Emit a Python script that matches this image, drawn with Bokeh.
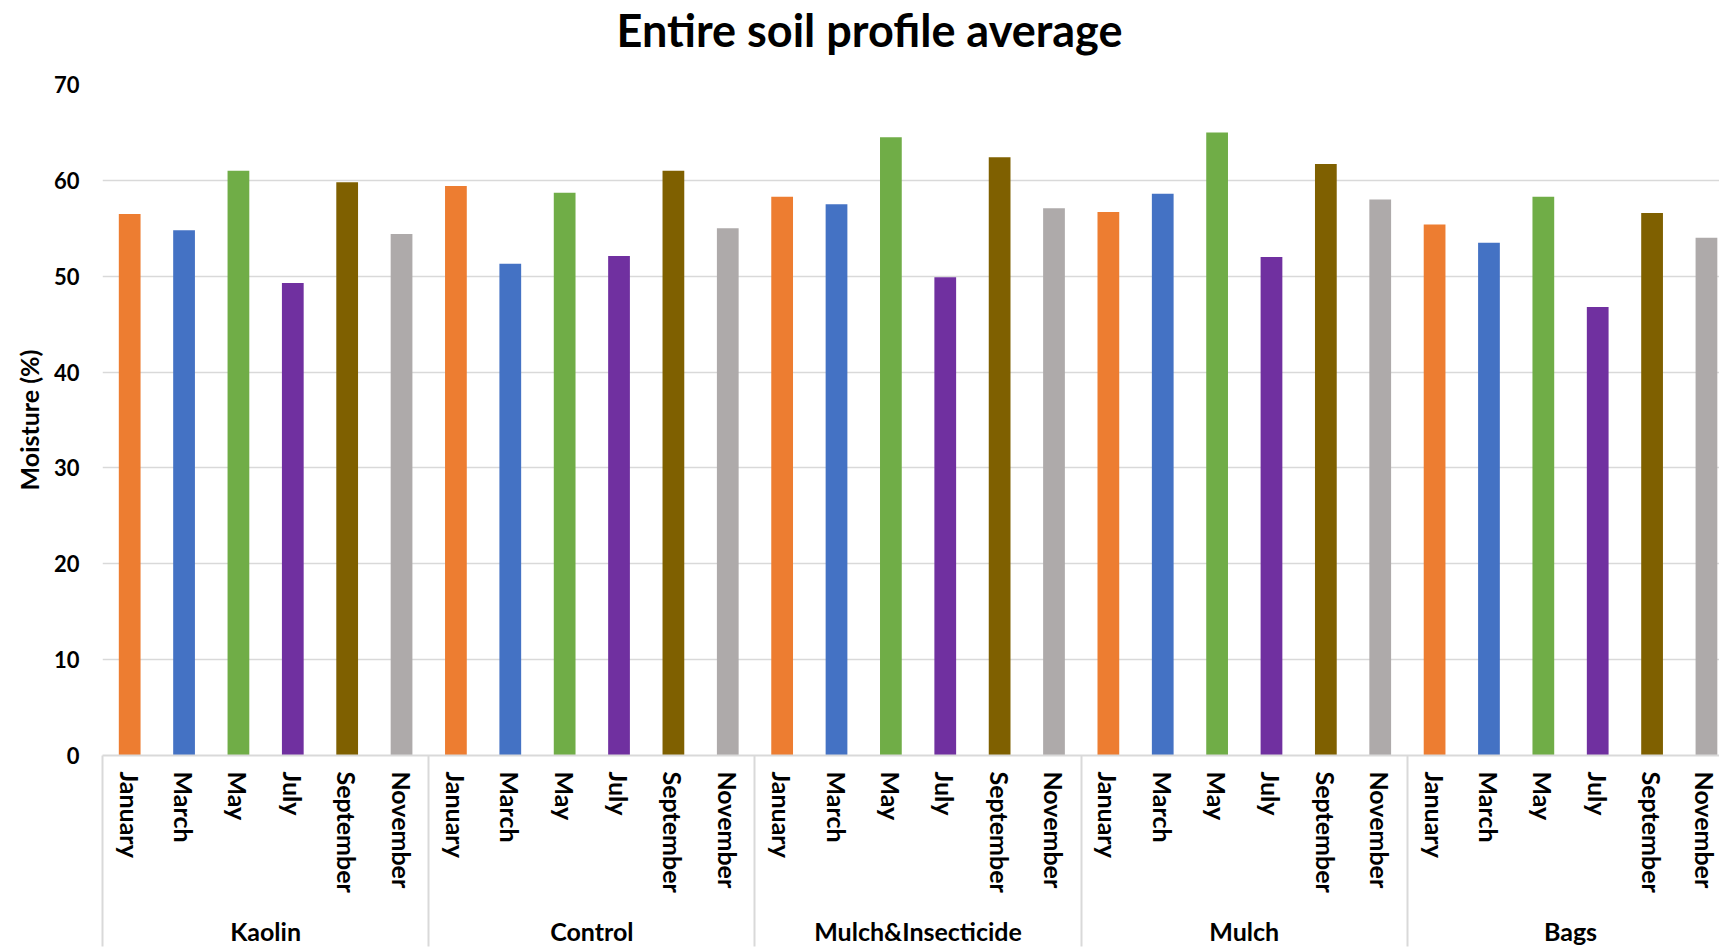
from bokeh.plotting import figure
from bokeh.models import Range1d, FixedTicker, LinearAxis, ColumnDataSource, Label
from bokeh.embed import file_html
from bokeh.resources import INLINE

# Treatments (outer category) and sampling months (inner category)
groups = ["Kaolin", "Control", "Mulch&Insecticide", "Mulch", "Bags"]
months = ["January", "March", "May", "July", "September", "November"]

# Soil moisture (%) averaged over the entire profile
kaolin = [56.5, 54.8, 61.0, 49.3, 59.8, 54.4]
control = [59.4, 51.3, 58.7, 52.1, 61.0, 55.0]
mulch_insecticide = [58.3, 57.5, 64.5, 49.9, 62.4, 57.1]
mulch = [56.7, 58.6, 65.0, 52.0, 61.7, 58.0]
bags = [55.4, 53.5, 58.3, 46.8, 56.6, 54.0]

month_colors = ["#ED7D31", "#4472C4", "#70AD47", "#7030A0", "#7F6000", "#AEAAAA"]
y_ticks = [0, 10, 20, 30, 40, 50, 60, 70]
chart_title = "Entire soil profile average"

series = [kaolin, control, mulch_insecticide, mulch, bags]
values = [v for s in series for v in s]
n_months = len(months)
positions = list(range(len(values)))
colors = [month_colors[i % n_months] for i in positions]

source = ColumnDataSource(dict(x=positions, top=values, color=colors))

FONT = "Lato"
GRID = "#D9D9D9"

WIDTH, HEIGHT = 1719, 948
LEFT, TOP, BOTTOM = 102, 84, 189
x_start, x_end = -0.5, 29.24

p = figure(
    width=WIDTH, height=HEIGHT, title=None,
    output_backend="svg", toolbar_location=None,
    x_range=Range1d(x_start, x_end), y_range=Range1d(0, 70),
    min_border_left=LEFT, min_border_right=0,
    min_border_top=TOP, min_border_bottom=BOTTOM,
    x_axis_location=None,
    background_fill_color="white", border_fill_color="white",
)
p.outline_line_color = None

# Value axis
yticker = FixedTicker(ticks=y_ticks)
p.yaxis.ticker = yticker
p.yaxis.axis_line_color = None
p.yaxis.major_tick_line_color = None
p.yaxis.minor_tick_line_color = None
p.yaxis.major_tick_out = 0
p.yaxis.major_label_text_font = FONT
p.yaxis.major_label_text_font_size = "22px"
p.yaxis.major_label_text_font_style = "bold"
p.yaxis.major_label_text_color = "black"
p.yaxis.major_label_standoff = 23
p.yaxis.axis_label = "Moisture (%)"
p.yaxis.axis_label_text_font = FONT
p.yaxis.axis_label_text_font_size = "25px"
p.yaxis.axis_label_text_font_style = "bold"
p.yaxis.axis_label_text_color = "black"
p.yaxis.axis_label_standoff = 7

p.xgrid.visible = False
p.ygrid.ticker = yticker
p.ygrid.grid_line_color = GRID
p.ygrid.grid_line_width = 1.5

# Bars
p.vbar(x="x", top="top", width=0.4, fill_color="color", line_color=None, source=source)

# Month axis; its minor ticks, pointed outwards, separate the treatment groups
separators = [g * n_months - 0.5 for g in range(len(groups) + 1)]
month_axis = LinearAxis(
    ticker=FixedTicker(ticks=positions, minor_ticks=separators),
    major_label_overrides={i: months[i % n_months] for i in positions},
)
month_axis.axis_line_color = GRID
month_axis.axis_line_width = 2
month_axis.major_tick_in = 0
month_axis.major_tick_out = 0
month_axis.major_tick_line_color = None
month_axis.minor_tick_out = 0
month_axis.minor_tick_in = -(BOTTOM + 2)
month_axis.minor_tick_line_color = GRID
month_axis.minor_tick_line_width = 2
month_axis.major_label_orientation = "vertical"
month_axis.major_label_standoff = 16
month_axis.major_label_text_font = FONT
month_axis.major_label_text_font_size = "25px"
month_axis.major_label_text_font_style = "bold"
month_axis.major_label_text_color = "black"
p.add_layout(month_axis, "below")

# Treatment axis on its own range: one unit per group, centred on each group
p.extra_x_ranges = {
    "grp": Range1d((x_start - (n_months - 1) / 2) / n_months,
                   (x_end - (n_months - 1) / 2) / n_months)
}
group_axis = LinearAxis(
    x_range_name="grp",
    ticker=FixedTicker(ticks=list(range(len(groups)))),
    major_label_overrides={i: g for i, g in enumerate(groups)},
)
group_axis.axis_line_color = None
group_axis.major_tick_line_color = None
group_axis.minor_tick_line_color = None
group_axis.major_tick_out = 0
group_axis.major_label_standoff = 20
group_axis.major_label_text_font = FONT
group_axis.major_label_text_font_size = "25px"
group_axis.major_label_text_font_style = "bold"
group_axis.major_label_text_color = "black"
p.add_layout(group_axis, "below")

# Chart title in the panel above the frame, centred on the whole chart
title_center_px = 869   # horizontal centre on the canvas
title_y = 55            # baseline height within the title panel
p.add_layout(Label(
    x=title_center_px - LEFT, y=title_y,
    x_units="screen", y_units="screen",
    text=chart_title, text_align="center", text_baseline="alphabetic",
    text_font=FONT, text_font_size="45px", text_font_style="bold",
    text_color="black",
), "above")

open("out.html", "w").write(file_html(p, INLINE))
